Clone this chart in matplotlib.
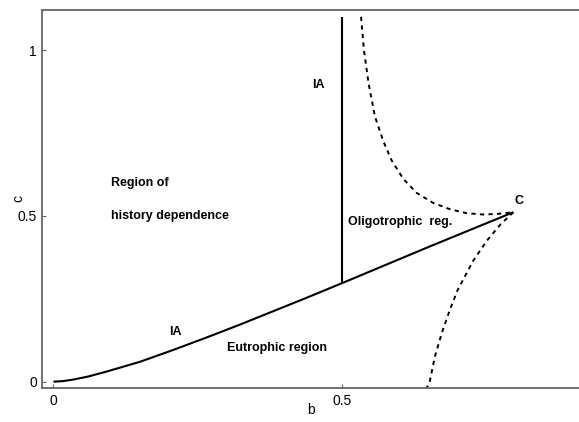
import matplotlib
matplotlib.use("Agg")
import matplotlib.pyplot as plt

plt.rcParams['font.family'] = ['Liberation Sans', 'DejaVu Sans']

# Indifference (IA) curve: from the origin up to the cusp point C
ia_b = [0.0, 0.017, 0.0345, 0.06, 0.092, 0.150, 0.208, 0.265, 0.323, 0.433, 0.5, 0.6525, 0.797]
ia_c = [0.0, 0.0018, 0.0065, 0.0155, 0.0305, 0.060, 0.096, 0.133, 0.172, 0.249, 0.297, 0.408, 0.511]

# Vertical IA boundary at b = 0.5
vert_b = [0.5, 0.5]
vert_c = [0.297, 1.10]

# Upper fold branch (dashed), top of the plot down to C
up_b = [0.533, 0.538, 0.546, 0.557, 0.5716, 0.586, 0.606, 0.6295, 0.658, 0.687, 0.716, 0.745, 0.770, 0.797]
up_c = [1.10, 1.0, 0.90, 0.80, 0.725, 0.667, 0.612, 0.569, 0.539, 0.520, 0.508, 0.504, 0.506, 0.511]

# Lower fold branch (dashed), from C down to the b axis
lo_b = [0.797, 0.774, 0.751, 0.7275, 0.700, 0.687, 0.673, 0.661, 0.652, 0.647]
lo_c = [0.511, 0.473, 0.425, 0.365, 0.275, 0.217, 0.147, 0.076, 0.0, -0.018]

x_ticks = [0, 0.5]
x_ticklabels = ['0', '0.5']
y_ticks = [0, 0.5, 1]
y_ticklabels = ['0', '0.5', '1']

fig = plt.figure(figsize=(5.79, 4.22), dpi=100)
ax = fig.add_axes([0.0725, 0.0806, 0.9275, 0.8957])

ax.plot(ia_b, ia_c, color='black', lw=1.5, solid_capstyle='butt')
ax.plot(vert_b, vert_c, color='black', lw=1.5, solid_capstyle='butt')
ax.plot(up_b, up_c, color='black', lw=1.4, dashes=(2.2, 2.2))
ax.plot(lo_b, lo_c, color='black', lw=1.4, dashes=(2.2, 2.2))

ax.set_xlim(-0.0199, 0.9107)
ax.set_ylim(-0.019, 1.1206)

spine_col = '#666666'
for side in ('left', 'top', 'bottom'):
    ax.spines[side].set_color(spine_col)
    ax.spines[side].set_linewidth(1.3)
ax.spines['right'].set_visible(False)

ax.set_xticks(x_ticks)
ax.set_xticklabels(x_ticklabels)
ax.set_yticks(y_ticks)
ax.set_yticklabels(y_ticklabels)
ax.tick_params(direction='in', length=3, width=0.8, color=spine_col,
               labelsize=10, pad=4)
ax.tick_params(axis='y', pad=3.5)

ax.set_xlabel('b', fontsize=10)
ax.set_ylabel('c', fontsize=10)
ax.xaxis.set_label_coords(0.5, -0.04)
ax.yaxis.set_label_coords(-0.03, 0.5)

bold = dict(fontsize=9, fontweight='bold', color='black')
ax.text(0.1, 0.6, 'Region of', ha='left', va='center', **bold)
ax.text(0.1, 0.5, 'history dependence', ha='left', va='center', **bold)
ax.text(0.459, 0.895, 'IA', ha='center', va='center', **bold)
ax.text(0.807, 0.546, 'C', ha='center', va='center', **bold)
ax.text(0.511, 0.482, 'Oligotrophic  reg.', ha='left', va='center', **bold)
ax.text(0.212, 0.15, 'IA', ha='center', va='center', **bold)
ax.text(0.300, 0.1025, 'Eutrophic region', ha='left', va='center', **bold)

fig.savefig('out.png', dpi=100)
